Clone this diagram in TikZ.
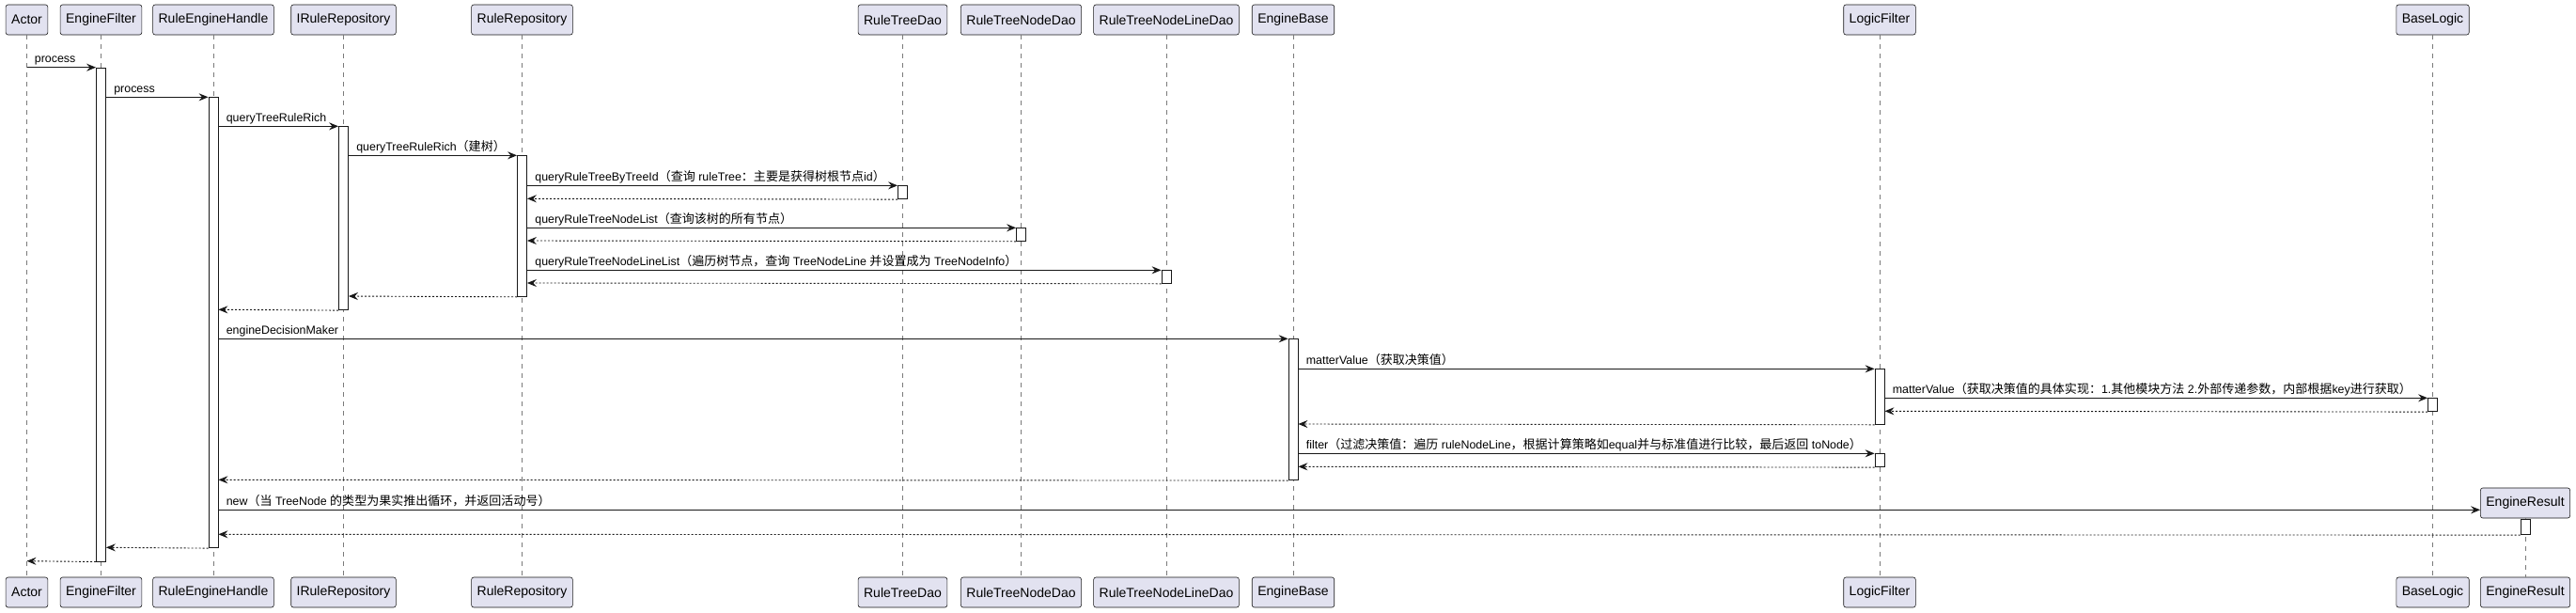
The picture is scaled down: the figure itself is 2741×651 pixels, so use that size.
\documentclass[tikz,border=0pt]{standalone}
\usepackage{fontspec}
\setmainfont{Liberation Sans}
\newfontfamily\cjk[Scale=1.05]{Noto Sans CJK SC}
\usetikzlibrary{arrows.meta,positioning}
\definecolor{partfill}{HTML}{E2E2F0}
\definecolor{partline}{HTML}{181818}
\definecolor{lifegray}{HTML}{7A7A7A}
\newcommand{\zh}[1]{{\cjk #1}}
\tikzset{
  participant/.style={draw=partline, rounded corners=2.5pt, fill=partfill, line width=0.6pt, inner xsep=6pt, minimum height=32pt, font=\fontsize{14}{16}\selectfont},
  lifeline/.style={draw=lifegray, line width=0.6pt, dash pattern=on 5pt off 5pt},
  act/.style={draw=partline, fill=white, line width=0.8pt, minimum width=10pt, inner sep=0pt, anchor=north},
  call/.style={-{Stealth[length=10pt, width=8pt, inset=3.5pt]}, line width=0.9pt, draw=partline},
  reply/.style={call, dash pattern=on 2pt off 2pt},
  msg/.style={anchor=base west, inner sep=0pt, xshift=8pt, yshift=5pt, font=\fontsize{12.4}{15}\selectfont}
}

\begin{document}
\begin{tikzpicture}[x=1pt, y=-1pt]
  \path[fill=white, use as bounding box] (0,0) rectangle (2741,651);

  % participants, top row
  \node[participant] (tActor) at (28.5,21) {Actor};
  \node[participant] (tFilter) at (107.5,21) {EngineFilter};
  \node[participant] (tHandle) at (227,21) {RuleEngineHandle};
  \node[participant] (tIRepo) at (365.5,21) {IRuleRepository};
  \node[participant] (tRepo) at (555.5,21) {RuleRepository};
  \node[participant] (tTreeDao) at (960.5,21) {RuleTreeDao};
  \node[participant] (tNodeDao) at (1086.5,21) {RuleTreeNodeDao};
  \node[participant] (tLineDao) at (1241,21) {RuleTreeNodeLineDao};
  \node[participant] (tBase) at (1376,21) {EngineBase};
  \node[participant] (tLogic) at (2000,21) {LogicFilter};
  \node[participant] (tBaseLogic) at (2588.5,21) {BaseLogic};
  \node[participant] (cResult) at (2687,535) {EngineResult};

  % participants, bottom row
  \node[participant] (bActor) at (28.5,630) {Actor};
  \node[participant] (bFilter) at (107.5,630) {EngineFilter};
  \node[participant] (bHandle) at (227,630) {RuleEngineHandle};
  \node[participant] (bIRepo) at (365.5,630) {IRuleRepository};
  \node[participant] (bRepo) at (555.5,630) {RuleRepository};
  \node[participant] (bTreeDao) at (960.5,630) {RuleTreeDao};
  \node[participant] (bNodeDao) at (1086.5,630) {RuleTreeNodeDao};
  \node[participant] (bLineDao) at (1241,630) {RuleTreeNodeLineDao};
  \node[participant] (bBase) at (1376,630) {EngineBase};
  \node[participant] (bLogic) at (2000,630) {LogicFilter};
  \node[participant] (bBaseLogic) at (2588.5,630) {BaseLogic};
  \node[participant] (bResult) at (2687,630) {EngineResult};

  % lifelines
  \draw[lifeline] (tActor) -- (bActor);
  \draw[lifeline] (tFilter) -- (bFilter);
  \draw[lifeline] (tHandle) -- (bHandle);
  \draw[lifeline] (tIRepo) -- (bIRepo);
  \draw[lifeline] (tRepo) -- (bRepo);
  \draw[lifeline] (tTreeDao) -- (bTreeDao);
  \draw[lifeline] (tNodeDao) -- (bNodeDao);
  \draw[lifeline] (tLineDao) -- (bLineDao);
  \draw[lifeline] (tBase) -- (bBase);
  \draw[lifeline] (tLogic) -- (bLogic);
  \draw[lifeline] (tBaseLogic) -- (bBaseLogic);
  \draw[lifeline] (cResult) -- (bResult);

  % activations
  \node[act, minimum height=525pt] (aFilter) at (107.5,71.7) {};
  \node[act, minimum height=479pt] (aHandle) at (227,103.3) {};
  \node[act, minimum height=195pt] (aIRepo) at (365.5,134.3) {};
  \node[act, minimum height=149.7pt] (aRepo) at (555.5,165.3) {};
  \node[act, minimum height=14pt] (aTreeDao) at (960.5,197.3) {};
  \node[act, minimum height=13.7pt] (aNodeDao) at (1086.5,242.3) {};
  \node[act, minimum height=13.7pt] (aLineDao) at (1241,287.3) {};
  \node[act, minimum height=150pt] (aBase) at (1376,360.3) {};
  \node[act, minimum height=58.7pt] (aLogicA) at (2000,392.3) {};
  \node[act, minimum height=14pt] (aBaseLogic) at (2588.5,423.3) {};
  \node[act, minimum height=14pt] (aLogicB) at (2000,482.3) {};
  \node[act, minimum height=16.3pt] (aResult) at (2687,552) {};

  % messages
  \draw[call] (tActor |- 0,71.7) -- (aFilter.north west) node[msg, pos=0] {process};
  \draw[call] (aFilter.east |- 0,103.3) -- (aHandle.north west) node[msg, pos=0] {process};
  \draw[call] (aHandle.east |- 0,134.3) -- (aIRepo.north west) node[msg, pos=0] {queryTreeRuleRich};
  \draw[call] (aIRepo.east |- 0,165.3) -- (aRepo.north west) node[msg, pos=0] {queryTreeRuleRich\zh{（建树）}};
  \draw[call] (aRepo.east |- 0,197.3) -- (aTreeDao.north west)
    node[msg, pos=0] {queryRuleTreeByTreeId\zh{（查询} ruleTree\zh{：主要是获得树根节点}id\zh{）}};
  \draw[reply] (aTreeDao.south west) -- (aRepo.east |- 0,211.3);
  \draw[call] (aRepo.east |- 0,242.3) -- (aNodeDao.north west)
    node[msg, pos=0] {queryRuleTreeNodeList\zh{（查询该树的所有节点）}};
  \draw[reply] (aNodeDao.south west) -- (aRepo.east |- 0,256);
  \draw[call] (aRepo.east |- 0,287.3) -- (aLineDao.north west)
    node[msg, pos=0] {queryRuleTreeNodeLineList\zh{（遍历树节点，查询} TreeNodeLine \zh{并设置成为} TreeNodeInfo\zh{）}};
  \draw[reply] (aLineDao.south west) -- (aRepo.east |- 0,301);
  \draw[reply] (aRepo.south west) -- (aIRepo.east |- 0,315);
  \draw[reply] (aIRepo.south west) -- (aHandle.east |- 0,329.3);
  \draw[call] (aHandle.east |- 0,360.3) -- (aBase.north west) node[msg, pos=0] {engineDecisionMaker};
  \draw[call] (aBase.east |- 0,392.3) -- (aLogicA.north west) node[msg, pos=0] {matterValue\zh{（获取决策值）}};
  \draw[call] (aLogicA.east |- 0,423.3) -- (aBaseLogic.north west)
    node[msg, pos=0] {matterValue\zh{（获取决策值的具体实现：}1.\zh{其他模块方法} 2.\zh{外部传递参数，内部根据}key\zh{进行获取）}};
  \draw[reply] (aBaseLogic.south west) -- (aLogicA.east |- 0,437.3);
  \draw[reply] (aLogicA.south west) -- (aBase.east |- 0,451);
  \draw[call] (aBase.east |- 0,482.3) -- (aLogicB.north west)
    node[msg, pos=0] {filter\zh{（过滤决策值：遍历} ruleNodeLine\zh{，根据计算策略如}equal\zh{并与标准值进行比较，最后返回} toNode\zh{）}};
  \draw[reply] (aLogicB.south west) -- (aBase.east |- 0,496.3);
  \draw[reply] (aBase.south west) -- (aHandle.east |- 0,510.3);
  \draw[call] (aHandle.east |- 0,542.3) -- (cResult.west |- 0,542.3)
    node[msg, pos=0] {new\zh{（当} TreeNode \zh{的类型为果实推出循环，并返回活动号）}};
  \draw[reply] (aResult.south west) -- (aHandle.east |- 0,568.3);
  \draw[reply] (aHandle.south west) -- (aFilter.east |- 0,582.3);
  \draw[reply] (aFilter.south west) -- (tActor |- 0,596.7);
\end{tikzpicture}
\end{document}
